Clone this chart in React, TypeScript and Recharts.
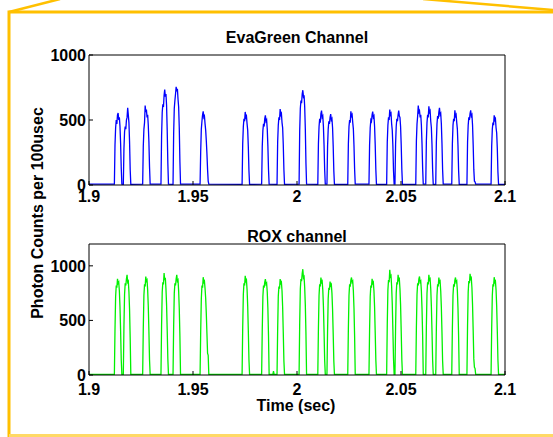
import React from 'react'
import { Line, LineChart, XAxis, YAxis } from 'recharts'

// sampling interval used for the droplet readings (sec)
const STEP = 0.0003

// droplet arrival times (sec), shared by both detector channels
const dropletStarts = [
  1.9122, 1.9165, 1.9258, 1.9346, 1.9404, 1.9534, 1.9736, 1.983, 1.9904, 2.001, 2.01,
  2.0144, 2.0244, 2.0346, 2.0431, 2.0471, 2.0571, 2.0619, 2.0667, 2.0744, 2.0817, 2.0933,
]

// photon counts per 100 usec across each droplet, EvaGreen channel
const evaGreenPulses: number[][] = [
  [6, 310, 440, 500, 470, 540, 554, 500, 520, 450, 320, 130, 6],
  [5, 280, 410, 450, 430, 500, 520, 593, 540, 480, 330, 120, 5],
  [7, 300, 430, 480, 611, 560, 580, 520, 540, 460, 330, 140, 6],
  [6, 380, 560, 620, 600, 690, 735, 680, 700, 610, 420, 170, 7],
  [5, 400, 590, 650, 700, 755, 720, 740, 660, 600, 440, 180, 6],
  [6, 260, 430, 490, 540, 567, 520, 530, 470, 420, 340, 240, 120, 30, 6],
  [5, 320, 450, 510, 490, 562, 520, 530, 470, 420, 290, 110, 5],
  [6, 300, 420, 470, 450, 510, 536, 490, 500, 430, 300, 120, 6],
  [5, 330, 460, 520, 500, 585, 540, 550, 480, 440, 310, 120, 5],
  [6, 420, 590, 650, 630, 700, 729, 680, 690, 600, 430, 170, 6],
  [5, 320, 450, 510, 480, 550, 572, 520, 530, 450, 310, 120, 6],
  [6, 300, 430, 490, 470, 520, 546, 500, 510, 440, 300, 110, 5],
  [5, 320, 450, 500, 480, 567, 530, 540, 480, 430, 300, 120, 6],
  [6, 310, 440, 500, 490, 540, 564, 520, 530, 450, 310, 120, 5],
  [5, 330, 460, 520, 500, 580, 540, 550, 470, 420, 300, 110, 6],
  [6, 320, 450, 510, 490, 540, 572, 530, 520, 450, 310, 120, 5],
  [5, 340, 470, 530, 611, 560, 570, 520, 540, 460, 320, 130, 6],
  [6, 340, 480, 540, 520, 606, 560, 570, 490, 440, 310, 120, 5],
  [5, 330, 470, 530, 510, 560, 593, 540, 550, 470, 320, 120, 6],
  [6, 320, 460, 510, 490, 575, 530, 540, 480, 430, 300, 110, 5],
  [5, 330, 460, 520, 500, 550, 575, 530, 540, 460, 310, 120, 30, 25, 6],
  [6, 300, 430, 480, 460, 536, 500, 510, 440, 400, 280, 100, 5],
]

// photon counts per 100 usec across each droplet, ROX channel
const roxPulses: number[][] = [
  [5, 420, 720, 820, 800, 881, 840, 850, 770, 620, 400, 140, 5],
  [6, 450, 740, 840, 820, 880, 917, 850, 860, 760, 600, 340, 6],
  [5, 430, 730, 830, 810, 902, 860, 870, 780, 630, 400, 140, 5],
  [6, 460, 760, 850, 830, 933, 870, 890, 790, 640, 410, 150, 6],
  [5, 450, 750, 840, 820, 880, 917, 860, 870, 770, 610, 360, 5],
  [6, 400, 700, 820, 800, 896, 850, 860, 790, 700, 560, 380, 200, 180, 6],
  [5, 440, 740, 840, 820, 908, 860, 870, 780, 630, 400, 140, 6],
  [6, 420, 720, 820, 800, 850, 878, 830, 840, 760, 610, 360, 5],
  [5, 420, 720, 810, 790, 878, 840, 850, 770, 620, 390, 130, 6],
  [6, 480, 790, 880, 860, 930, 969, 890, 900, 800, 640, 380, 5],
  [5, 430, 730, 830, 810, 893, 850, 860, 780, 630, 400, 140, 6],
  [6, 410, 700, 800, 780, 856, 820, 830, 750, 600, 380, 130, 5],
  [5, 430, 730, 830, 810, 870, 893, 850, 860, 770, 610, 350, 6],
  [6, 420, 720, 820, 800, 881, 840, 850, 770, 620, 390, 140, 5],
  [5, 470, 780, 870, 850, 963, 900, 910, 810, 650, 410, 150, 6],
  [6, 450, 750, 850, 830, 917, 870, 880, 790, 640, 400, 140, 5],
  [5, 440, 740, 840, 820, 880, 902, 850, 860, 770, 610, 360, 6],
  [6, 450, 750, 850, 830, 917, 870, 880, 790, 630, 400, 140, 5],
  [5, 430, 730, 830, 810, 893, 850, 860, 770, 620, 390, 130, 6],
  [6, 430, 730, 830, 810, 870, 893, 850, 860, 770, 610, 350, 5],
  [5, 460, 760, 860, 840, 927, 880, 890, 800, 640, 410, 150, 70, 60, 6],
  [6, 430, 730, 830, 810, 896, 850, 860, 780, 630, 400, 140, 5],
]

// background readings between droplets: [time, counts]
const evaGreenBaseline: [number, number][] = [
  [1.9, 6],
  [2.1, 5],
]
const roxBaseline: [number, number][] = [
  [1.9, 6],
  [1.9884, 6],
  [1.9887, 35],
  [1.989, 6],
  [2.1, 5],
]

const timeTicks = [1.9, 1.95, 2, 2.05, 2.1]
const countTicks = [0, 500, 1000]

type Point = { t: number; v: number }

function buildTrace(pulses: number[][], baseline: [number, number][]): Point[] {
  const points: Point[] = baseline.map(([t, v]) => ({ t, v }))
  dropletStarts.forEach((start, i) => {
    pulses[i].forEach((v, j) => points.push({ t: start + j * STEP, v }))
  })
  return points.sort((a, b) => a.t - b.t)
}

const evaGreenData = buildTrace(evaGreenPulses, evaGreenBaseline)
const roxData = buildTrace(roxPulses, roxBaseline)

const FONT = '"Liberation Sans", Arial, Helvetica, sans-serif'
const tickStyle = { fontSize: 16, fontWeight: 'bold', fill: '#000', fontFamily: FONT }

function ChannelPanel({
  data,
  color,
  yMax,
  top,
  height,
  marginTop,
  marginBottom,
  labelGap,
}: {
  data: Point[]
  color: string
  yMax: number
  top: number
  height: number
  marginTop: number
  marginBottom: number
  labelGap: number
}) {
  return (
    <div style={{ position: 'absolute', left: 0, top, width: 553, height }}>
      <LineChart
        width={553}
        height={height}
        data={data}
        margin={{ top: marginTop - 1, right: 47, left: 39, bottom: marginBottom }}
      >
        <XAxis
          xAxisId="b"
          dataKey="t"
          type="number"
          domain={[1.9, 2.1]}
          ticks={timeTicks}
          interval={0}
          allowDataOverflow
          height={30}
          tickSize={-4}
          tickMargin={labelGap}
          stroke="#000"
          tick={tickStyle}
        />
        {/* box top edge with inward ticks */}
        <XAxis
          xAxisId="t"
          orientation="top"
          dataKey="t"
          type="number"
          domain={[1.9, 2.1]}
          ticks={timeTicks}
          interval={0}
          allowDataOverflow
          height={1}
          tickSize={-4}
          tick={false}
          stroke="#000"
        />
        <YAxis
          yAxisId="l"
          type="number"
          domain={[0, yMax]}
          ticks={countTicks}
          interval={0}
          allowDataOverflow
          width={50}
          tickSize={-4}
          tickMargin={7}
          stroke="#000"
          tick={tickStyle}
        />
        {/* box right edge with inward ticks */}
        <YAxis
          yAxisId="r"
          orientation="right"
          type="number"
          domain={[0, yMax]}
          ticks={countTicks}
          interval={0}
          allowDataOverflow
          width={1}
          tickSize={-4}
          tick={false}
          stroke="#000"
        />
        <Line
          xAxisId="b"
          yAxisId="l"
          type="linear"
          dataKey="v"
          stroke={color}
          strokeWidth={1.3}
          dot={false}
          isAnimationActive={false}
        />
      </LineChart>
    </div>
  )
}

export default function App() {
  return (
    <div
      style={{
        position: 'absolute',
        left: 0,
        top: 0,
        width: 553,
        height: 437,
        background: '#fff',
        overflow: 'hidden',
        fontFamily: FONT,
      }}
    >
      <ChannelPanel
        data={evaGreenData}
        color="#0000ff"
        yMax={1000}
        top={0}
        height={215}
        marginTop={55}
        marginBottom={0}
        labelGap={10}
      />
      <ChannelPanel
        data={roxData}
        color="#00f000"
        yMax={1200}
        top={190}
        height={225}
        marginTop={54}
        marginBottom={10}
        labelGap={13}
      />
      <svg
        width={553}
        height={437}
        style={{ position: 'absolute', left: 0, top: 0, pointerEvents: 'none' }}
      >
        {/* callout frame */}
        <polyline points="9,437 9,12 553,12" fill="none" stroke="#ffc000" strokeWidth={3} />
        <line x1={9} y1={12} x2={60} y2={-1} stroke="#ffc000" strokeWidth={2.5} />
        <line x1={423} y1={-1} x2={553} y2={10} stroke="#ffc000" strokeWidth={2.5} />
        <line x1={9} y1={435.5} x2={553} y2={435.5} stroke="#ffd966" strokeWidth={3} />

        <g fontFamily={FONT} fontWeight="bold" fontSize={16} fill="#000" textAnchor="middle">
          <text x={297} y={42.5}>EvaGreen Channel</text>
          <text x={297} y={241.5}>ROX channel</text>
          <text x={296} y={411}>Time (sec)</text>
          <text transform="translate(42.5, 213) rotate(-90)">Photon Counts per 100usec</text>
        </g>
      </svg>
    </div>
  )
}
